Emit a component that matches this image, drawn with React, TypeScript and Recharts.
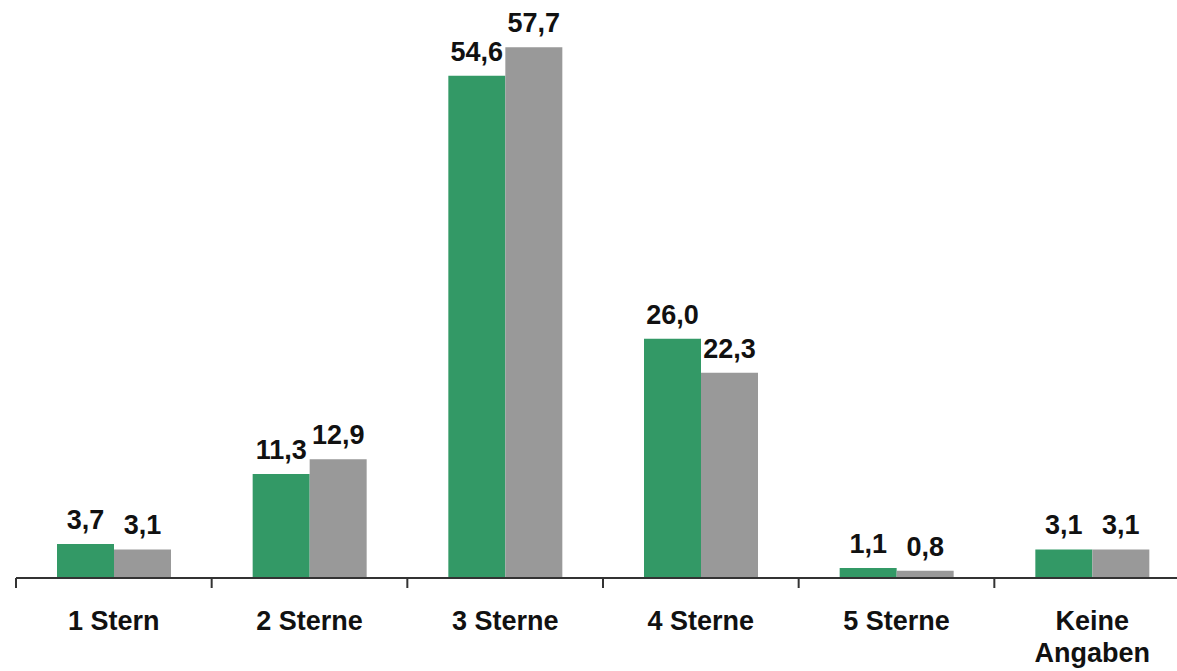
import { BarChart, Bar, XAxis, YAxis, LabelList } from "recharts";

const categories = ["1 Stern", "2 Sterne", "3 Sterne", "4 Sterne", "5 Sterne", "Keine Angaben"];
const greenValues = [3.7, 11.3, 54.6, 26.0, 1.1, 3.1];
const grayValues = [3.1, 12.9, 57.7, 22.3, 0.8, 3.1];

const W = 1200;
const H = 671;
const M = { top: 26, right: 10, left: 16, bottom: 33 };
const band = (W - M.left - M.right) / categories.length;
const font = '"Liberation Sans", Arial, sans-serif';

const data = categories.map((c, i) => ({ cat: c, a: greenValues[i], b: grayValues[i] }));

const fmt = (v: any) => Number(v).toFixed(1).replace(".", ",");

function CatTick(props: any) {
  const { x, y, payload } = props;
  const label: string = payload.value;
  const lines = label === "Keine Angaben" ? ["Keine", "Angaben"] : [label];
  return (
    <g>
      <line x1={x - band / 2} x2={x - band / 2} y1={y} y2={y + 10} stroke="#333" strokeWidth={2} />
      <text x={x} y={y + 52} textAnchor="middle" fontFamily={font} fontWeight="bold" fontSize={27} fill="#111">
        {lines.map((l, i) => (
          <tspan key={i} x={x} dy={i === 0 ? 0 : 32}>
            {l}
          </tspan>
        ))}
      </text>
    </g>
  );
}

export default function App() {
  return (
    <div style={{ position: "absolute", left: 0, top: 0, width: 1177, height: 671, overflow: "hidden", background: "#fff" }}>
      <BarChart width={W} height={H} data={data} margin={M} barCategoryGap={41} barGap={0}>
        <XAxis
          dataKey="cat"
          height={60}
          interval={0}
          tickLine={false}
          tickSize={0}
          tickMargin={0}
          axisLine={{ stroke: "#333", strokeWidth: 2 }}
          tick={<CatTick />}
        />
        <YAxis hide domain={[0, 60]} />
        <Bar dataKey="a" fill="#339966" isAnimationActive={false}>
          <LabelList
            dataKey="a"
            position="top"
            offset={15}
            formatter={fmt}
            style={{ fontFamily: font, fontWeight: "bold", fontSize: 27, fill: "#111" }}
          />
        </Bar>
        <Bar dataKey="b" fill="#999999" isAnimationActive={false}>
          <LabelList
            dataKey="b"
            position="top"
            offset={15}
            formatter={fmt}
            style={{ fontFamily: font, fontWeight: "bold", fontSize: 27, fill: "#111" }}
          />
        </Bar>
      </BarChart>
    </div>
  );
}
